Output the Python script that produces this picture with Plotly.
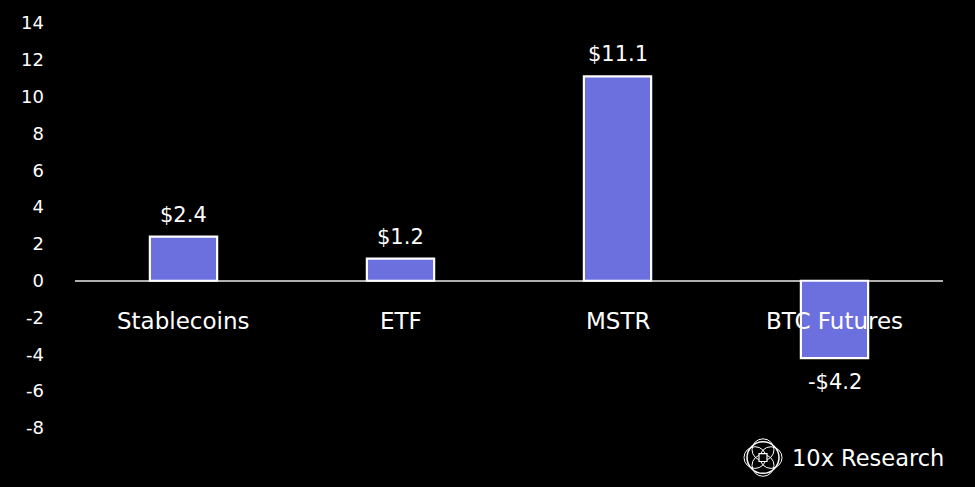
import plotly.graph_objects as go

categories = ["Stablecoins", "ETF", "MSTR", "BTC Futures"]
values = [2.4, 1.2, 11.1, -4.2]
value_labels = ["$2.4", "$1.2", "$11.1", "-$4.2"]
tick_vals = [-8, -6, -4, -2, 0, 2, 4, 6, 8, 10, 12, 14]
tick_text = [str(v) for v in tick_vals]

FONT = "DejaVu Sans, sans-serif"

W, H = 975, 487
l, r, t, b = 75, 32, 17, 59
pw, ph = W - l - r, H - t - b
def px(x): return (x - l) / pw
def py(y): return (H - b - y) / ph

fig = go.Figure()
fig.add_trace(go.Bar(
    x=categories, y=values,
    marker=dict(color="#6c70df", line=dict(color="white", width=2.2)),
    width=0.31, cliponaxis=False, hoverinfo="skip",
))

for c, v, lab in zip(categories, values, value_labels):
    fig.add_annotation(x=c, y=v, xref="x", yref="y", text=lab, showarrow=False,
                       yanchor="bottom" if v >= 0 else "top",
                       yshift=8 if v >= 0 else -10,
                       font=dict(color="white", size=21, family=FONT))

for c in categories:
    fig.add_annotation(x=c, y=-2.2, xref="x", yref="y", text=c, showarrow=False,
                       font=dict(color="white", size=23, family=FONT))

# logo
fig.add_annotation(x=px(946), y=py(458), xref="paper", yref="paper", text="10x Research",
                   showarrow=False, xanchor="right", yanchor="middle",
                   font=dict(color="white", size=22.5, family=FONT))

cx, cy, rad = 763, 458, 16
fig.add_shape(type="circle", xref="paper", yref="paper",
              x0=px(cx - rad), x1=px(cx + rad), y0=py(cy + rad), y1=py(cy - rad),
              line=dict(color="white", width=1.5))
for dx, dy in [(8, 0), (-8, 0), (0, 8), (0, -8)]:
    fig.add_shape(type="circle", xref="paper", yref="paper",
                  x0=px(cx + dx - 11), x1=px(cx + dx + 11), y0=py(cy + dy + 11), y1=py(cy + dy - 11),
                  line=dict(color="white", width=1))
fig.add_shape(type="rect", xref="paper", yref="paper",
              x0=px(cx - 4), x1=px(cx + 4), y0=py(cy + 4), y1=py(cy - 4),
              line=dict(color="white", width=1.2), fillcolor="black")

fig.update_layout(
    width=W, height=H,
    paper_bgcolor="black", plot_bgcolor="black",
    margin=dict(l=l, r=r, t=t, b=b),
    showlegend=False,
    xaxis=dict(showticklabels=False, showgrid=False, zeroline=False, showline=False, ticks=""),
    yaxis=dict(range=[-8, 14], tickvals=tick_vals, ticktext=tick_text, showgrid=False,
               zeroline=True, zerolinecolor="#b0b0b0", zerolinewidth=1.5, showline=False,
               tickfont=dict(color="white", size=18, family=FONT), ticklabelstandoff=30),
)

fig.write_html("out.html", post_script="document.body.style.margin='0';",
               config={"displayModeBar": False})
